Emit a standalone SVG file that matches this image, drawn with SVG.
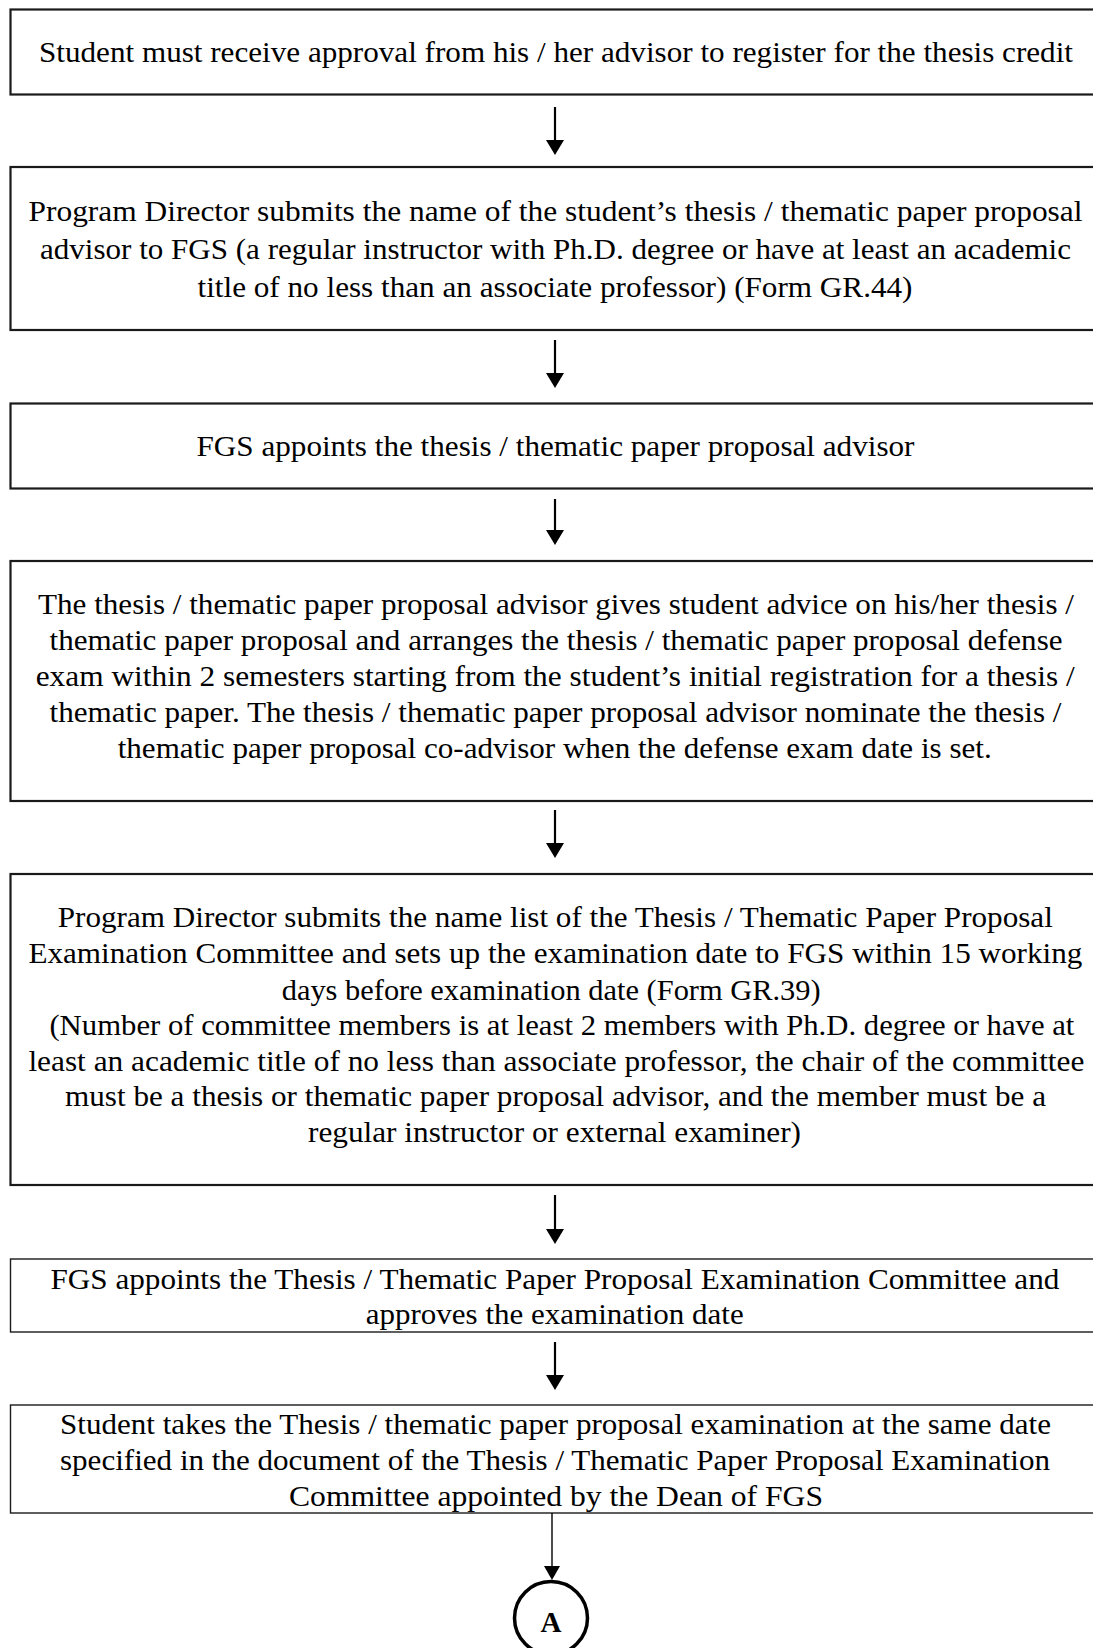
<svg xmlns="http://www.w3.org/2000/svg" width="1093" height="1648" viewBox="0 0 1093 1648">
<style>
.box{fill:#fff;stroke:#1a1a1a;stroke-width:2.2}
.thin{stroke-width:1.4}
.t{font-family:"Liberation Serif","Times New Roman",serif;font-size:29px;fill:#000}
.shaft{stroke:#000;stroke-width:2.2;fill:none}
.head{fill:#000}
</style>
<rect x="0" y="0" width="1093" height="1648" fill="#fff"/>
<g id="n1">
<rect class="box" x="10.5" y="9.5" width="1100" height="85"/>
<text class="t" x="39" y="62" textLength="1034" lengthAdjust="spacingAndGlyphs">Student must receive approval from his / her advisor to register for the thesis credit</text>
</g>
<g id="n2">
<rect class="box" x="10.5" y="167" width="1100" height="163"/>
<text class="t" x="28.5" y="221" textLength="1054" lengthAdjust="spacingAndGlyphs">Program Director submits the name of the student’s thesis / thematic paper proposal</text>
<text class="t" x="40" y="258.5" textLength="1031" lengthAdjust="spacingAndGlyphs">advisor to FGS (a regular instructor with Ph.D. degree or have at least an academic</text>
<text class="t" x="197.5" y="296.5" textLength="715" lengthAdjust="spacingAndGlyphs">title of no less than an associate professor) (Form GR.44)</text>
</g>
<g id="n3">
<rect class="box" x="10.5" y="403.5" width="1100" height="85"/>
<text class="t" x="196.5" y="456" textLength="718" lengthAdjust="spacingAndGlyphs">FGS appoints the thesis / thematic paper proposal advisor</text>
</g>
<g id="n4">
<rect class="box" x="10.5" y="561" width="1100" height="240"/>
<text class="t" x="38" y="614" textLength="1036" lengthAdjust="spacingAndGlyphs">The thesis / thematic paper proposal advisor gives student advice on his/her thesis /</text>
<text class="t" x="49.5" y="650" textLength="1013" lengthAdjust="spacingAndGlyphs">thematic paper proposal and arranges the thesis / thematic paper proposal defense</text>
<text class="t" x="35.7" y="686" textLength="1039" lengthAdjust="spacingAndGlyphs">exam within 2 semesters starting from the student’s initial registration for a thesis /</text>
<text class="t" x="49.5" y="722" textLength="1012" lengthAdjust="spacingAndGlyphs">thematic paper. The thesis / thematic paper proposal advisor nominate the thesis /</text>
<text class="t" x="117.7" y="757.5" textLength="874" lengthAdjust="spacingAndGlyphs">thematic paper proposal co-advisor when the defense exam date is set.</text>
</g>
<g id="n5">
<rect class="box" x="10.5" y="874" width="1100" height="311"/>
<text class="t" x="57.8" y="927" textLength="995" lengthAdjust="spacingAndGlyphs">Program Director submits the name list of the Thesis / Thematic Paper Proposal</text>
<text class="t" x="28.4" y="963" textLength="1054" lengthAdjust="spacingAndGlyphs">Examination Committee and sets up the examination date to FGS within 15 working</text>
<text class="t" x="281.7" y="999.5" textLength="539" lengthAdjust="spacingAndGlyphs">days before examination date (Form GR.39)</text>
<text class="t" x="49.4" y="1035" textLength="1025" lengthAdjust="spacingAndGlyphs">(Number of committee members is at least 2 members with Ph.D. degree or have at</text>
<text class="t" x="28.4" y="1070.5" textLength="1056" lengthAdjust="spacingAndGlyphs">least an academic title of no less than associate professor, the chair of the committee</text>
<text class="t" x="65" y="1106" textLength="981" lengthAdjust="spacingAndGlyphs">must be a thesis or thematic paper proposal advisor, and the member must be a</text>
<text class="t" x="308" y="1142" textLength="493" lengthAdjust="spacingAndGlyphs">regular instructor or external examiner)</text>
</g>
<g id="n6">
<rect class="box thin" x="10.5" y="1259" width="1100" height="73"/>
<text class="t" x="50.4" y="1289" textLength="1009" lengthAdjust="spacingAndGlyphs">FGS appoints the Thesis / Thematic Paper Proposal Examination Committee and</text>
<text class="t" x="365.7" y="1324" textLength="378" lengthAdjust="spacingAndGlyphs">approves the examination date</text>
</g>
<g id="n7">
<rect class="box thin" x="10.5" y="1405" width="1100" height="108"/>
<text class="t" x="60" y="1434" textLength="991" lengthAdjust="spacingAndGlyphs">Student takes the Thesis / thematic paper proposal examination at the same date</text>
<text class="t" x="60" y="1470" textLength="990" lengthAdjust="spacingAndGlyphs">specified in the document of the Thesis / Thematic Paper Proposal Examination</text>
<text class="t" x="289" y="1506" textLength="534" lengthAdjust="spacingAndGlyphs">Committee appointed by the Dean of FGS</text>
</g>
<g id="nA">
<circle cx="551" cy="1618" r="36.5" fill="#fff" stroke="#000" stroke-width="3.5"/>
<text x="551" y="1632" text-anchor="middle" font-family="Liberation Serif, Times New Roman, serif" font-size="29" font-weight="bold" fill="#000">A</text>
</g>
<g id="connectors">
<line class="shaft" x1="555" y1="107" x2="555" y2="142"/>
<polygon class="head" points="546,140 564,140 555,155"/>
<line class="shaft" x1="555" y1="340" x2="555" y2="375"/>
<polygon class="head" points="546,373 564,373 555,388"/>
<line class="shaft" x1="555" y1="499" x2="555" y2="532"/>
<polygon class="head" points="546,530 564,530 555,545"/>
<line class="shaft" x1="555" y1="810" x2="555" y2="845"/>
<polygon class="head" points="546,843 564,843 555,858"/>
<line class="shaft" x1="555" y1="1195" x2="555" y2="1231"/>
<polygon class="head" points="546,1229 564,1229 555,1244"/>
<line class="shaft" x1="555" y1="1342" x2="555" y2="1377"/>
<polygon class="head" points="546,1375 564,1375 555,1390"/>
<line class="shaft" x1="552" y1="1513" x2="552" y2="1568" style="stroke-width:1.4"/>
<polygon class="head" points="544,1566 560,1566 552,1580"/>
</g>
</svg>
